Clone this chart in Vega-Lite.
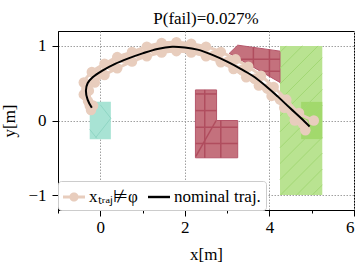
{
  "$schema": "https://vega.github.io/schema/vega-lite/v6.json",
  "width": 296,
  "height": 179,
  "autosize": {"type": "none"},
  "padding": {"left": 58, "top": 31, "right": 8, "bottom": 56},
  "title": {"text": "P(fail)=0.027%", "font": "Liberation Serif", "fontSize": 17, "fontWeight": "normal", "color": "black", "offset": 3},
  "config": {
    "view": {"stroke": "black", "strokeWidth": 1},
    "axis": {
      "labelFont": "Liberation Serif", "labelFontSize": 17, "labelColor": "black", "labelOverlap": false,
      "titleFont": "Liberation Serif", "titleFontSize": 17, "titleFontWeight": "normal", "titleColor": "black",
      "domainColor": "black", "tickColor": "black", "grid": true, "gridColor": "#a0a0a0", "gridDash": [1.5, 1.5], "gridWidth": 1
    }
  },
  "datasets": {
    "rects": [
      {"kind": "teal", "x": -0.25, "x2": 0.25, "y": -0.25, "y2": 0.25},
      {"kind": "greenbig", "x": 4.25, "x2": 5.25, "y": -1.0, "y2": 1.0},
      {"kind": "greensmall", "x": 4.75, "x2": 5.25, "y": -0.25, "y2": 0.25}
    ],
    "polys": [
      {"poly": "L", "i": 0, "x": 2.25, "y": -0.5},
      {"poly": "L", "i": 1, "x": 3.25, "y": -0.5},
      {"poly": "L", "i": 2, "x": 3.25, "y": 0.0},
      {"poly": "L", "i": 3, "x": 2.75, "y": 0.0},
      {"poly": "L", "i": 4, "x": 2.75, "y": 0.41},
      {"poly": "L", "i": 5, "x": 2.25, "y": 0.41},
      {"poly": "Q", "i": 0, "x": 3.05, "y": 0.9},
      {"poly": "Q", "i": 1, "x": 3.25, "y": 1.01},
      {"poly": "Q", "i": 2, "x": 4.25, "y": 0.93},
      {"poly": "Q", "i": 3, "x": 4.25, "y": 0.51}
    ],
    "hatch": [
      {"kind": "red", "x": 2.47, "y": -0.5, "x2": 2.47, "y2": 0.41},
      {"kind": "red", "x": 2.85, "y": -0.5, "x2": 2.85, "y2": 0.0},
      {"kind": "red", "x": 2.25, "y": 0.356, "x2": 2.75, "y2": 0.356},
      {"kind": "red", "x": 2.25, "y": 0.133, "x2": 2.75, "y2": 0.133},
      {"kind": "red", "x": 2.25, "y": -0.09, "x2": 3.25, "y2": -0.09},
      {"kind": "red", "x": 2.25, "y": -0.31, "x2": 3.25, "y2": -0.31},
      {"kind": "red", "x": 2.26, "y": -0.48, "x2": 2.74, "y2": 0.0},
      {"kind": "red", "x": 3.62, "y": 0.715, "x2": 3.62, "y2": 0.98},
      {"kind": "red", "x": 4.0, "y": 0.59, "x2": 4.0, "y2": 0.95},
      {"kind": "red", "x": 3.3, "y": 0.82, "x2": 4.25, "y2": 0.82},
      {"kind": "red", "x": 3.79, "y": 0.66, "x2": 4.25, "y2": 0.66},
      {"kind": "teal", "x": 0.0, "y": 0.21, "x2": 0.25, "y2": 0.03},
      {"kind": "teal", "x": 0.25, "y": 0.03, "x2": -0.11, "y2": -0.23},
      {"kind": "teal", "x": -0.25, "y": -0.12, "x2": -0.08, "y2": -0.24},
      {"kind": "green", "x": 4.25, "y": 0.915, "x2": 4.4, "y2": 1.0},
      {"kind": "green", "x": 4.25, "y": 0.70, "x2": 4.78, "y2": 1.0},
      {"kind": "green", "x": 4.25, "y": 0.49, "x2": 5.15, "y2": 1.0},
      {"kind": "green", "x": 4.25, "y": 0.275, "x2": 5.25, "y2": 0.842},
      {"kind": "green", "x": 4.25, "y": 0.062, "x2": 5.25, "y2": 0.628},
      {"kind": "green", "x": 4.25, "y": -0.152, "x2": 5.25, "y2": 0.415},
      {"kind": "green", "x": 4.25, "y": -0.365, "x2": 5.25, "y2": 0.202},
      {"kind": "green", "x": 4.25, "y": -0.578, "x2": 5.25, "y2": -0.012},
      {"kind": "green", "x": 4.25, "y": -0.792, "x2": 5.25, "y2": -0.225},
      {"kind": "green", "x": 4.26, "y": -1.0, "x2": 5.25, "y2": -0.438},
      {"kind": "green", "x": 4.64, "y": -1.0, "x2": 5.25, "y2": -0.652},
      {"kind": "green", "x": 5.01, "y": -1.0, "x2": 5.25, "y2": -0.865}
    ],
    "traj": [
      {"t": "A", "i": 0, "x": -0.17, "y": 0.2},
      {"t": "A", "i": 1, "x": -0.39, "y": 0.35},
      {"t": "A", "i": 2, "x": -0.39, "y": 0.51},
      {"t": "A", "i": 3, "x": -0.2, "y": 0.65},
      {"t": "A", "i": 4, "x": 0.1, "y": 0.76},
      {"t": "A", "i": 5, "x": 0.4, "y": 0.85},
      {"t": "A", "i": 6, "x": 0.75, "y": 0.92},
      {"t": "A", "i": 7, "x": 1.1, "y": 0.99},
      {"t": "A", "i": 8, "x": 1.45, "y": 1.04},
      {"t": "A", "i": 9, "x": 1.8, "y": 1.05},
      {"t": "A", "i": 10, "x": 2.15, "y": 1.03},
      {"t": "A", "i": 11, "x": 2.5, "y": 0.99},
      {"t": "A", "i": 12, "x": 2.85, "y": 0.92},
      {"t": "A", "i": 13, "x": 3.2, "y": 0.82},
      {"t": "A", "i": 14, "x": 3.5, "y": 0.72},
      {"t": "A", "i": 15, "x": 3.8, "y": 0.6},
      {"t": "A", "i": 16, "x": 4.1, "y": 0.45},
      {"t": "A", "i": 17, "x": 4.4, "y": 0.28},
      {"t": "A", "i": 18, "x": 4.7, "y": 0.1},
      {"t": "A", "i": 19, "x": 5.05, "y": 0.0},
      {"t": "B", "i": 0, "x": -0.22, "y": 0.14},
      {"t": "B", "i": 1, "x": -0.29, "y": 0.26},
      {"t": "B", "i": 2, "x": -0.27, "y": 0.4},
      {"t": "B", "i": 3, "x": -0.13, "y": 0.51},
      {"t": "B", "i": 4, "x": 0.1, "y": 0.61},
      {"t": "B", "i": 5, "x": 0.4, "y": 0.7},
      {"t": "B", "i": 6, "x": 0.75, "y": 0.79},
      {"t": "B", "i": 7, "x": 1.1, "y": 0.86},
      {"t": "B", "i": 8, "x": 1.45, "y": 0.91},
      {"t": "B", "i": 9, "x": 1.8, "y": 0.93},
      {"t": "B", "i": 10, "x": 2.15, "y": 0.91},
      {"t": "B", "i": 11, "x": 2.5, "y": 0.86},
      {"t": "B", "i": 12, "x": 2.85, "y": 0.78},
      {"t": "B", "i": 13, "x": 3.15, "y": 0.69},
      {"t": "B", "i": 14, "x": 3.45, "y": 0.58},
      {"t": "B", "i": 15, "x": 3.75, "y": 0.47},
      {"t": "B", "i": 16, "x": 4.05, "y": 0.33},
      {"t": "B", "i": 17, "x": 4.35, "y": 0.17},
      {"t": "B", "i": 18, "x": 4.6, "y": 0.0},
      {"t": "B", "i": 19, "x": 4.85, "y": -0.13},
      {"t": "C", "i": 0, "x": -0.25, "y": 0.2},
      {"t": "C", "i": 1, "x": -0.34, "y": 0.33},
      {"t": "C", "i": 2, "x": -0.31, "y": 0.48},
      {"t": "C", "i": 3, "x": -0.05, "y": 0.64},
      {"t": "C", "i": 4, "x": 0.25, "y": 0.74},
      {"t": "C", "i": 5, "x": 0.58, "y": 0.83},
      {"t": "C", "i": 6, "x": 0.92, "y": 0.9},
      {"t": "C", "i": 7, "x": 1.28, "y": 0.96},
      {"t": "C", "i": 8, "x": 1.62, "y": 0.99},
      {"t": "C", "i": 9, "x": 1.98, "y": 0.98},
      {"t": "C", "i": 10, "x": 2.33, "y": 0.94},
      {"t": "C", "i": 11, "x": 2.68, "y": 0.87},
      {"t": "C", "i": 12, "x": 3.02, "y": 0.79},
      {"t": "C", "i": 13, "x": 3.35, "y": 0.68},
      {"t": "C", "i": 14, "x": 3.65, "y": 0.56},
      {"t": "C", "i": 15, "x": 3.95, "y": 0.43},
      {"t": "C", "i": 16, "x": 4.25, "y": 0.28},
      {"t": "C", "i": 17, "x": 4.55, "y": 0.1},
      {"t": "C", "i": 18, "x": 4.8, "y": -0.05}
    ],
    "nominal": [
      {"i": 0, "x": -0.2, "y": 0.17},
      {"i": 1, "x": -0.3, "y": 0.28},
      {"i": 2, "x": -0.34, "y": 0.4},
      {"i": 3, "x": -0.3, "y": 0.5},
      {"i": 4, "x": -0.18, "y": 0.58},
      {"i": 5, "x": 0.05, "y": 0.67},
      {"i": 6, "x": 0.35, "y": 0.76},
      {"i": 7, "x": 0.65, "y": 0.83},
      {"i": 8, "x": 1.0, "y": 0.9},
      {"i": 9, "x": 1.35, "y": 0.96},
      {"i": 10, "x": 1.7, "y": 0.99},
      {"i": 11, "x": 2.0, "y": 0.98},
      {"i": 12, "x": 2.3, "y": 0.95},
      {"i": 13, "x": 2.65, "y": 0.88},
      {"i": 14, "x": 3.0, "y": 0.79},
      {"i": 15, "x": 3.3, "y": 0.7},
      {"i": 16, "x": 3.6, "y": 0.6},
      {"i": 17, "x": 3.9, "y": 0.47},
      {"i": 18, "x": 4.2, "y": 0.32},
      {"i": 19, "x": 4.5, "y": 0.16},
      {"i": 20, "x": 4.75, "y": 0.03},
      {"i": 21, "x": 4.95, "y": -0.08}
    ],
    "legenditems": [
      {"label": "xₜᵣₐⱼ⊭φ"},
      {"label": "nominal traj."}
    ]
  },
  "encoding": {
    "x": {"field": "x", "type": "quantitative", "scale": {"domain": [-1, 6], "nice": false, "zero": false},
      "axis": {"title": "x[m]", "tickCount": 14, "format": "d",
        "labelExpr": "datum.value % 2 === 0 ? datum.label : ''",
        "tickSize": {"condition": {"test": "datum.value % 2 === 0", "value": 6}, "value": 3},
        "gridOpacity": {"condition": {"test": "datum.value % 2 === 0", "value": 1}, "value": 0},
        "labelPadding": 3, "titlePadding": 11}},
    "y": {"field": "y", "type": "quantitative", "scale": {"domain": [-1.2, 1.2], "nice": false, "zero": false},
      "axis": {"title": "y[m]", "tickCount": 12, "format": "d",
        "labelExpr": "datum.value % 1 === 0 ? datum.label : ''",
        "tickSize": {"condition": {"test": "datum.value % 1 === 0", "value": 6}, "value": 3},
        "gridOpacity": {"condition": {"test": "datum.value % 1 === 0", "value": 1}, "value": 0},
        "labelPadding": 6, "titlePadding": 9}}
  },
  "layer": [
    {
      "data": {"name": "rects"},
      "transform": [{"filter": "datum.kind === 'teal'"}],
      "mark": {"type": "rect", "fill": "#a8e3d4"},
      "encoding": {"x2": {"field": "x2"}, "y2": {"field": "y2"}}
    },
    {
      "data": {"name": "rects"},
      "transform": [{"filter": "datum.kind === 'greenbig'"}],
      "mark": {"type": "rect", "fill": "#b9e391"},
      "encoding": {"x2": {"field": "x2"}, "y2": {"field": "y2"}}
    },
    {
      "data": {"name": "rects"},
      "transform": [{"filter": "datum.kind === 'greensmall'"}],
      "mark": {"type": "rect", "fill": "#a2d96c"},
      "encoding": {"x2": {"field": "x2"}, "y2": {"field": "y2"}}
    },
    {
      "data": {"name": "polys"},
      "mark": {"type": "line", "fill": "#c4717d", "stroke": "#b5566a", "strokeWidth": 1, "interpolate": "linear-closed"},
      "encoding": {"detail": {"field": "poly"}, "order": {"field": "i"}}
    },
    {
      "data": {"name": "hatch"},
      "transform": [{"filter": "datum.kind === 'red'"}],
      "mark": {"type": "rule", "stroke": "#b04d5e", "strokeWidth": 1.5},
      "encoding": {"x2": {"field": "x2"}, "y2": {"field": "y2"}}
    },
    {
      "data": {"name": "hatch"},
      "transform": [{"filter": "datum.kind === 'teal'"}],
      "mark": {"type": "rule", "stroke": "#8fd6c4", "strokeWidth": 1},
      "encoding": {"x2": {"field": "x2"}, "y2": {"field": "y2"}}
    },
    {
      "data": {"name": "hatch"},
      "transform": [{"filter": "datum.kind === 'green'"}],
      "mark": {"type": "rule", "stroke": "#a3d875", "strokeWidth": 1},
      "encoding": {"x2": {"field": "x2"}, "y2": {"field": "y2"}}
    },
    {
      "data": {"name": "traj"},
      "mark": {"type": "line", "stroke": "#e8cdbd", "strokeWidth": 3, "interpolate": "catmull-rom"},
      "encoding": {"detail": {"field": "t"}, "order": {"field": "i"}}
    },
    {
      "data": {"name": "traj"},
      "mark": {"type": "point", "filled": true, "fill": "#e8cdbd", "size": 110, "opacity": 1, "strokeWidth": 0}
    },
    {
      "data": {"name": "nominal"},
      "mark": {"type": "line", "stroke": "black", "strokeWidth": 2, "interpolate": "catmull-rom"},
      "encoding": {"order": {"field": "i"}}
    },
    {
      "data": {"name": "legenditems"},
      "transform": [{"filter": "false"}],
      "mark": {"type": "point", "filled": true, "opacity": 1, "strokeWidth": 0},
      "encoding": {
        "color": {"field": "label", "type": "nominal",
          "scale": {"domain": ["xₜᵣₐⱼ⊭φ", "nominal traj."], "range": ["#e8cdbd", "black"]},
          "legend": {
            "title": null, "orient": "bottom-left", "offset": 0, "direction": "horizontal", "columns": 2,
            "fillColor": "white", "strokeColor": "#cccccc", "cornerRadius": 3, "padding": 5,
            "labelFont": "Liberation Serif", "labelFontSize": 17, "labelColor": "black", "labelOffset": 4,
            "symbolSize": 484, "symbolStrokeWidth": 0, "symbolOpacity": 1, "columnPadding": 10, "labelLimit": 200
          }},
        "shape": {"field": "label", "type": "nominal",
          "scale": {"domain": ["xₜᵣₐⱼ⊭φ", "nominal traj."],
            "range": ["M-1,-0.14L1,-0.14L1,0.14L-1,0.14Z M0.42,0A0.42,0.42,0,1,1,-0.42,0A0.42,0.42,0,1,1,0.42,0Z", "M-1,-0.11L1,-0.11L1,0.11L-1,0.11Z"]},
          "legend": {
            "title": null, "orient": "bottom-left", "offset": 0, "direction": "horizontal", "columns": 2,
            "fillColor": "white", "strokeColor": "#cccccc", "cornerRadius": 3, "padding": 5,
            "labelFont": "Liberation Serif", "labelFontSize": 17, "labelColor": "black", "labelOffset": 4,
            "symbolSize": 484, "symbolStrokeWidth": 0, "symbolOpacity": 1, "columnPadding": 10, "labelLimit": 200
          }}
      }
    }
  ]
}
